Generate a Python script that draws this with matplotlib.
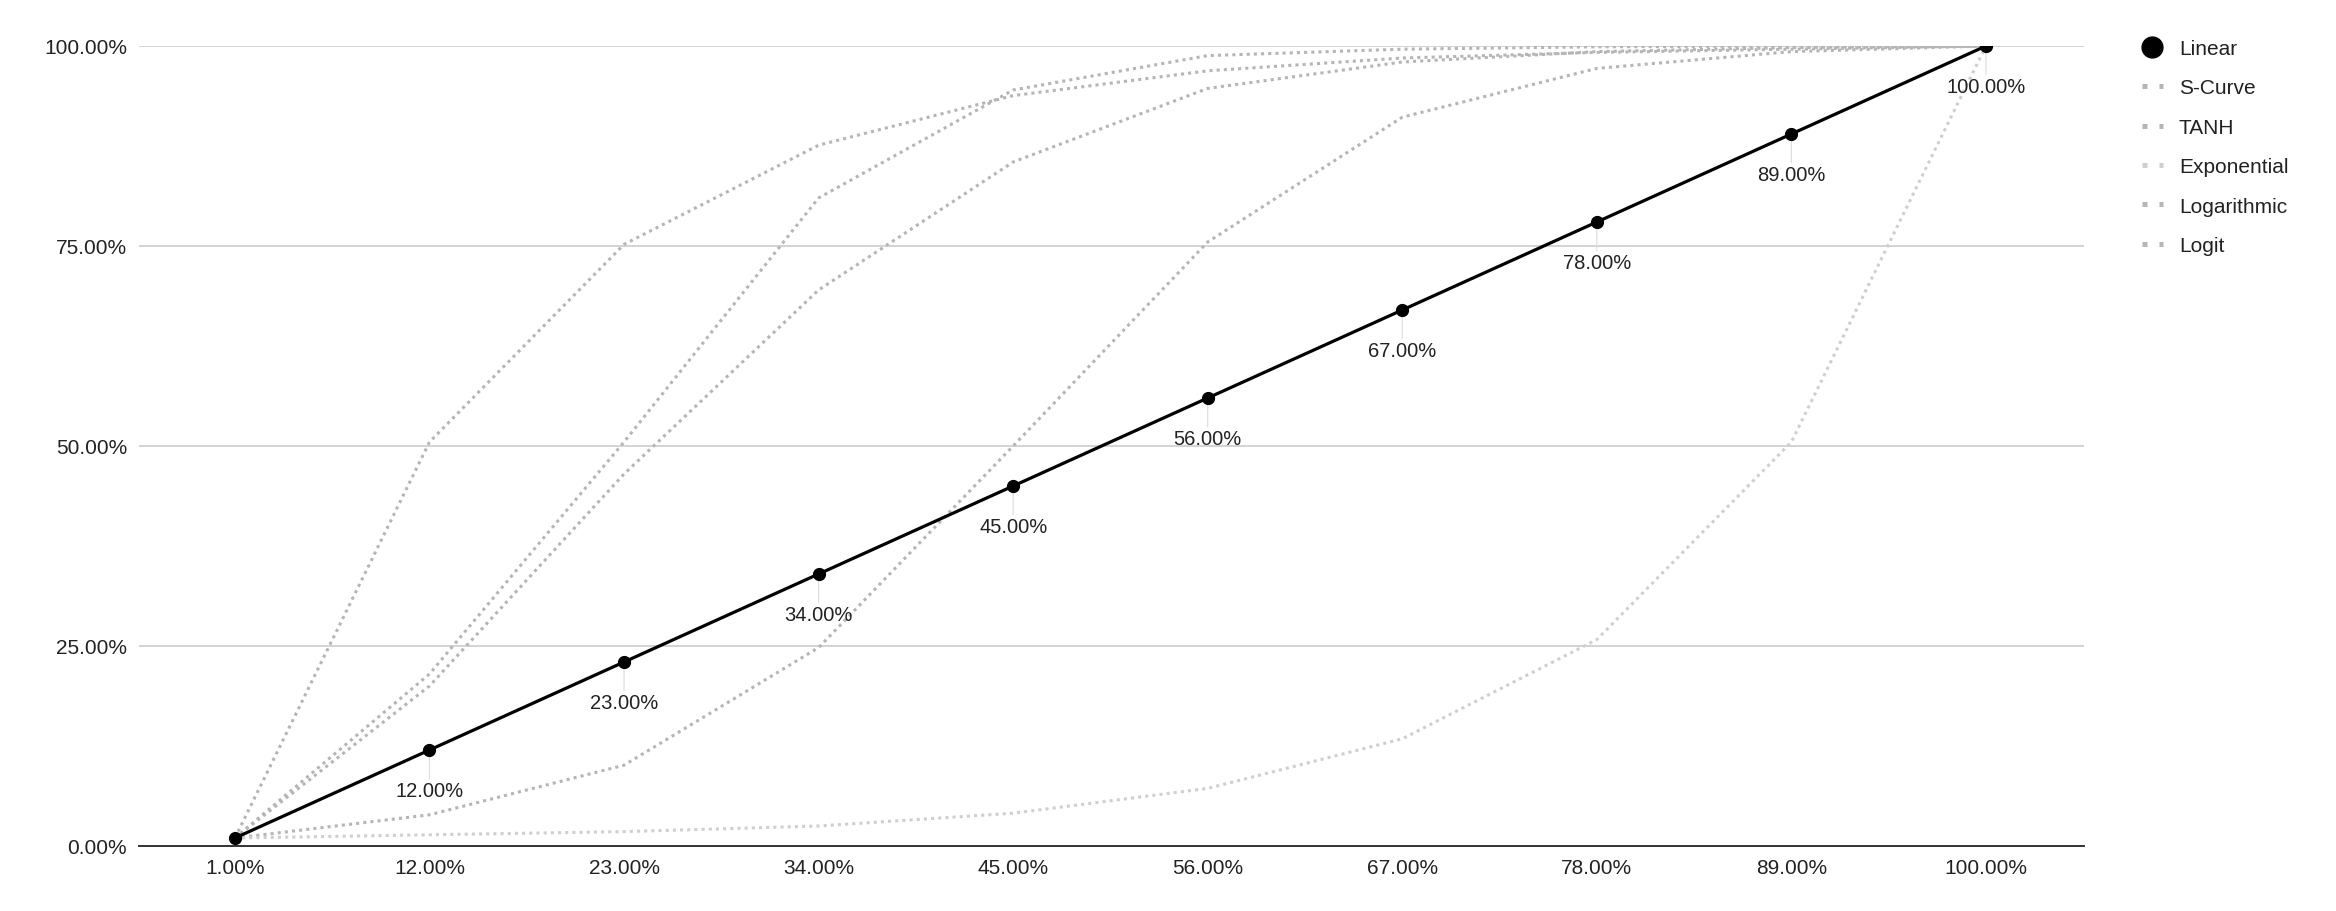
import matplotlib
matplotlib.use("Agg")
import matplotlib.pyplot as plt
from matplotlib.lines import Line2D

# ---- data ----
categories = ["1.00%", "12.00%", "23.00%", "34.00%", "45.00%",
              "56.00%", "67.00%", "78.00%", "89.00%", "100.00%"]
linear = [1, 12, 23, 34, 45, 56, 67, 78, 89, 100]
s_curve = [1, 3.9, 10.1, 24.8, 50, 75.5, 91.1, 97.2, 99.3, 100]
tanh = [1, 21.5, 50.5, 81, 94.5, 98.8, 99.6, 99.9, 100, 100]
exponential = [1, 1.4, 1.8, 2.5, 4.1, 7.2, 13.4, 25.8, 50.5, 100]
logarithmic = [1, 50.5, 75.2, 87.6, 93.8, 96.9, 98.5, 99.2, 99.6, 100]
logit = [1, 20, 46.5, 69.5, 85.5, 94.7, 98, 99.3, 99.8, 100]
y_ticks = [0, 25, 50, 75, 100]
y_tick_labels = ["0.00%", "25.00%", "50.00%", "75.00%", "100.00%"]

series_names = ["S-Curve", "TANH", "Exponential", "Logarithmic", "Logit"]
series_values = [s_curve, tanh, exponential, logarithmic, logit]
series_colors = ["#b5b5b5", "#b5b5b5", "#cfcfcf", "#b5b5b5", "#b5b5b5"]

plt.rcParams['font.family'] = ['Liberation Sans', 'DejaVu Sans']

W, H = 2336, 912
fig = plt.figure(figsize=(W / 100, H / 100), dpi=100)
ax = fig.add_axes([139 / W, 65 / H, (2084 - 139) / W, (847 - 47) / H])

xs = list(range(len(categories)))

for name, vals, col in zip(series_names, series_values, series_colors):
    ax.plot(xs, vals, color=col, lw=2.2, linestyle=(0, (1, 1.35)),
            dash_capstyle='butt', zorder=2)

ax.plot(xs, linear, color='black', lw=2.3, marker='o', markersize=8.5,
        zorder=4, solid_joinstyle='round')

for i, v in enumerate(linear):
    if i == 0:
        continue
    ax.annotate(f"{v:.2f}%", xy=(i, v), xytext=(0, -29.5),
                textcoords='offset points', ha='center', va='center',
                fontsize=14.5, color='#222222',
                arrowprops=dict(arrowstyle='-', color='#dcdcdc', lw=0.8,
                                shrinkA=0, shrinkB=5),
                zorder=3)

ax.set_xlim(-0.493, 9.504)
ax.set_ylim(0, 100)
ax.set_xticks(xs)
ax.set_xticklabels(categories)
ax.set_yticks(y_ticks)
ax.set_yticklabels(y_tick_labels)
ax.tick_params(axis='both', length=0, labelsize=15, labelcolor='#222222')
ax.tick_params(axis='x', pad=8.5)
ax.tick_params(axis='y', pad=8.6)

ax.grid(axis='y', color='#cccccc', lw=1.2, zorder=0)
ax.set_axisbelow(True)
for s in ['top', 'right', 'left']:
    ax.spines[s].set_visible(False)
ax.spines['bottom'].set_color('#333333')
ax.spines['bottom'].set_linewidth(1.4)
ax.spines['bottom'].set_zorder(5)

# ---- legend ----
handles = [Line2D([], [], color='black', marker='o', markersize=15, linestyle='None')]
for col in series_colors:
    handles.append(Line2D([], [], color=col, lw=3.6, linestyle=(0, (1, 2.4)),
                          dash_capstyle='butt'))
labels = ["Linear"] + series_names
leg = fig.legend(handles, labels, loc='upper left',
                 bbox_to_anchor=(2141.5 / W, 1 - 40 / H),
                 frameon=False, fontsize=15, handlelength=1.05,
                 handletextpad=0.74, labelspacing=0.98, borderpad=0,
                 borderaxespad=0)
for t in leg.get_texts():
    t.set_color('#222222')

fig.savefig("out.png", dpi=100, facecolor='white')
